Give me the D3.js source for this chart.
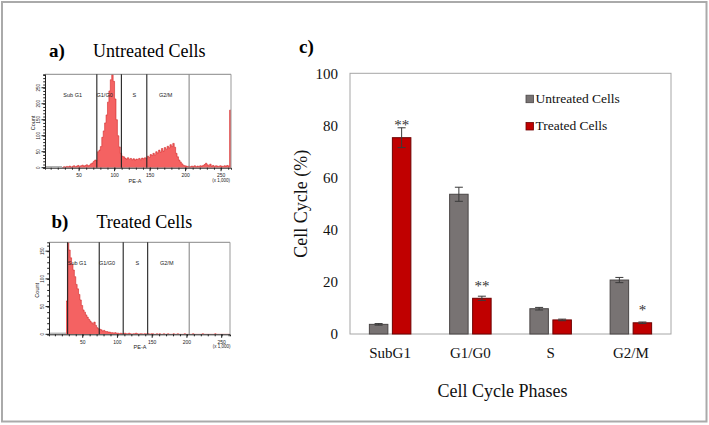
<!DOCTYPE html>
<html><head><meta charset="utf-8">
<script src="https://cdn.jsdelivr.net/npm/d3@7"></script>
<style>body{margin:0;background:#fff}svg{display:block}</style>
</head><body>
<script>
// ---------- bar chart data ----------
const phases = ["SubG1", "G1/G0", "S", "G2/M"];
const seriesNames = ["Untreated Cells", "Treated Cells"];
const untreatedVals = [3.7, 53.6, 9.7, 20.7];
const untreatedErr = [0.3, 2.7, 0.5, 1.0];
const treatedVals = [75.3, 13.7, 5.4, 4.3];
const treatedErr = [3.8, 0.8, 0.3, 0.3];
const sigLabels = ["**", "**", "", "*"];
const sigY = [81.4, 19.7, 0, 10.2];
const yTicks = [0, 20, 40, 60, 80, 100];

// ---------- histogram data (PE-A bins of width 2 starting at 2) ----------
const histBinStart = 2, histBinWidth = 2;
const histUntreated = [
 1,0,1,0,0,1,0,1,0,0,1,1,0,
 3,2,4,3,5,2,4,6,3,5,7,4,6,8,5,7,9,6,8,
 12,15,20,24,22,
 50,55,66,95,115,140,165,205,240,275,292,270,215,150,100,65,45,36,
 34,30,27,31,26,29,25,28,24,27,26,29,25,30,28,31,29,
 36,32,41,38,45,40,50,46,55,49,60,52,63,58,67,62,72,66,76,64,45,34,24,18,12,8,6,5,
 4,5,3,5,4,6,3,5,4,6,5,7,10,14,9,6,11,5,7,4,6,5,4,6,5,4,6,5,7,5,180];
const histTreated = [
 0,0,0,0,0,0,0,0,0,0,0,0,
 60,166,152,138,126,116,104,90,82,72,62,52,44,40,35,31,27,24,21,19,22,16,12,10,9,8,6,7,5,5,4,4,3,3,2,3,2,
 2,1,2,1,1,2,1,1,2,1,0,1,1,2,1,0,1,1,0,1,1,0,1,0,1,1,0,0,1,0,1,0,0,1,0,0,1,0,0,0,1,0,
 0,1,0,0,0,0,1,0,0,0,0,0,1,0,0,0,0,0,0,1,0,0,0,0,0,0,0,0,1,0,0,0,0,0,0,0,0,0,0,0,0,0,0,0,0,0];
const gatesUntreated = [75, 109.6, 145.4, 205];
const gatesTreated = [28.3, 73.8, 108.3, 143.5, 203.3];
const gateNames = ["Sub G1", "G1/G0", "S", "G2/M"];
const gateLabelPosUntreated = [41, 86, 128, 172];
const gateLabelPosTreated = [42, 85, 128.5, 171];
const histXTicks = [50, 100, 150, 200, 250];
const histYTicksUntreated = [0, 50, 100, 150, 200, 250];
const histYTicksTreated = [0, 50, 100, 150];

const W = 709, H = 425;
const svg = d3.select("body").append("svg").attr("width", W).attr("height", H)
  .style("font-family", "'Liberation Serif','Times New Roman',serif");
svg.append("rect").attr("width", W).attr("height", H).attr("fill", "#fff");
svg.append("rect").attr("x", 2).attr("y", 2).attr("width", 704.5).attr("height", 419.5)
  .attr("fill", "none").attr("stroke", "#aaa").attr("stroke-width", 2);

// ---------- histogram panels ----------
function histogram(cfg) {
  const g = svg.append("g");
  const x = d3.scaleLinear().domain(cfg.xDomain).range([cfg.left, cfg.right]);
  const y = d3.scaleLinear().domain(cfg.yDomain).range([cfg.bottom, cfg.top]);
  const clipId = "clip" + cfg.id;
  g.append("clipPath").attr("id", clipId).append("rect")
    .attr("x", cfg.left).attr("y", cfg.top).attr("width", cfg.right - cfg.left).attr("height", cfg.bottom - cfg.top);
  const pts = cfg.counts.map((c, i) => [histBinStart + i * histBinWidth, c]);
  pts.push([histBinStart + cfg.counts.length * histBinWidth, cfg.counts[cfg.counts.length - 1]]);
  const area = d3.area().x(d => x(d[0])).y0(cfg.bottom).y1(d => y(d[1])).curve(d3.curveStepAfter);
  const line = d3.line().x(d => x(d[0])).y(d => y(d[1])).curve(d3.curveStepAfter);
  const redPts = pts.filter(d => d[0] >= cfg.redFrom);
  g.append("line").attr("x1", cfg.left).attr("x2", x(cfg.redFrom)).attr("y1", y(cfg.grayLevel)).attr("y2", y(cfg.grayLevel))
    .attr("stroke", "#999").attr("stroke-width", 1);
  g.append("path").attr("d", area(redPts)).attr("fill", "#f46262").attr("clip-path", `url(#${clipId})`);
  g.append("path").attr("d", line(redPts)).attr("fill", "none").attr("stroke", "#d42a2a").attr("stroke-width", 0.6)
    .attr("clip-path", `url(#${clipId})`);
  // frame
  g.append("line").attr("x1", cfg.left).attr("x2", cfg.right).attr("y1", cfg.top).attr("y2", cfg.top).attr("stroke", "#888");
  g.append("line").attr("x1", cfg.right).attr("x2", cfg.right).attr("y1", cfg.top).attr("y2", cfg.bottom).attr("stroke", "#999");
  cfg.gates.forEach((gv, i) => {
    g.append("line").attr("x1", x(gv)).attr("x2", x(gv)).attr("y1", cfg.top).attr("y2", cfg.bottom)
      .attr("stroke", gv > 200 ? "#8a8a8a" : "#222").attr("stroke-width", 1.1);
  });
  gateNames.forEach((n, i) => {
    g.append("text").attr("x", x(cfg.labelPos[i])).attr("y", cfg.top + (cfg.bottom - cfg.top) * 0.22 + 2)
      .attr("text-anchor", "middle").attr("font-size", 5.5).attr("font-family", "'Liberation Sans',Arial,sans-serif")
      .attr("fill", "#222").text(n);
  });
  // axes
  const xAxis = g.append("g").attr("transform", `translate(0,${cfg.bottom})`)
    .call(d3.axisBottom(x).tickValues(d3.range(10, 261, 10)).tickSize(2).tickFormat(""));
  xAxis.select(".domain").attr("stroke", "#222");
  xAxis.selectAll(".tick line").attr("stroke", "#222");
  histXTicks.forEach(t => {
    g.append("line").attr("x1", x(t)).attr("x2", x(t)).attr("y1", cfg.bottom).attr("y2", cfg.bottom + 3.5).attr("stroke", "#222");
    g.append("text").attr("x", x(t)).attr("y", cfg.bottom + 9.5).attr("text-anchor", "middle")
      .attr("font-size", 5).attr("font-family", "'Liberation Sans',Arial,sans-serif").attr("fill", "#222").text(t);
  });
  g.append("text").attr("x", x(250)).attr("y", cfg.bottom + 14).attr("text-anchor", "middle")
    .attr("font-size", 4.5).attr("font-family", "'Liberation Sans',Arial,sans-serif").attr("fill", "#222").text("(x 1,000)");
  g.append("text").attr("x", cfg.peX).attr("y", cfg.bottom + 15).attr("text-anchor", "middle")
    .attr("font-size", 5.5).attr("font-family", "'Liberation Sans',Arial,sans-serif").attr("fill", "#222").text("PE-A");
  const yAxis = g.append("g").attr("transform", `translate(${cfg.left},0)`)
    .call(d3.axisLeft(y).tickValues(d3.range(0, cfg.yDomain[1], 10)).tickSize(1.8).tickFormat(""));
  yAxis.select(".domain").attr("stroke", "#222");
  yAxis.selectAll(".tick line").attr("stroke", "#222");
  cfg.yTicks.forEach(t => {
    g.append("line").attr("x1", cfg.left - 3.5).attr("x2", cfg.left).attr("y1", y(t)).attr("y2", y(t)).attr("stroke", "#222");
    g.append("text").attr("transform", `translate(${cfg.left - 5},${y(t)}) rotate(-90)`).attr("text-anchor", "middle")
      .attr("font-size", 4.5).attr("font-family", "'Liberation Sans',Arial,sans-serif").attr("fill", "#222").text(t);
  });
  g.append("text").attr("transform", `translate(${cfg.left - 10},${(cfg.top + cfg.bottom) / 2 + 2}) rotate(-90)`)
    .attr("text-anchor", "middle").attr("font-size", 5.5).attr("font-family", "'Liberation Sans',Arial,sans-serif")
    .attr("fill", "#222").text("Count");
  // titles
  svg.append("text").attr("x", cfg.lx).attr("y", cfg.ty).attr("font-size", 19).attr("font-weight", "bold").text(cfg.letter);
  svg.append("text").attr("x", cfg.tx).attr("y", cfg.ty).attr("font-size", 18).text(cfg.title);
}

histogram({id: "a", left: 45, right: 231, top: 74.3, bottom: 167.7, xDomain: [2, 264], yDomain: [0, 292],
  counts: histUntreated, gates: gatesUntreated, labelPos: gateLabelPosUntreated, yTicks: histYTicksUntreated,
  redFrom: 26, grayLevel: 3, peX: 135, letter: "a)", lx: 49, tx: 93, ty: 57.3, title: "Untreated Cells"});
histogram({id: "b", left: 49, right: 230, top: 242.3, bottom: 334.3, xDomain: [1.5, 262], yDomain: [0, 166],
  counts: histTreated, gates: gatesTreated, labelPos: gateLabelPosTreated, yTicks: histYTicksTreated,
  redFrom: 26, grayLevel: 2, peX: 140, letter: "b)", lx: 51.5, tx: 96.5, ty: 228.3, title: "Treated Cells"});

// ---------- bar chart ----------
const pl = 350, pr = 671, pt = 73.3, pb = 334;
const y = d3.scaleLinear().domain([0, 100]).range([pb, pt]);
const x0 = d3.scaleBand().domain(phases).range([pl, pr]).padding(0);
const grpW = 41.5;
const x1 = d3.scaleBand().domain(seriesNames)
  .range([x0.bandwidth() / 2 - grpW / 2, x0.bandwidth() / 2 + grpW / 2]).paddingInner(0.196).paddingOuter(0);
const colors = {"Untreated Cells": "#787373", "Treated Cells": "#c00000"};
const strokes = {"Untreated Cells": "#4a4646", "Treated Cells": "#6e0000"};

svg.append("rect").attr("x", pl).attr("y", pt).attr("width", pr - pl).attr("height", pb - pt)
  .attr("fill", "none").attr("stroke", "#a6a6a6").attr("stroke-width", 1);

const yAx = svg.append("g").attr("transform", `translate(${pl},0)`)
  .call(d3.axisLeft(y).tickValues(yTicks).tickSize(0).tickPadding(12));
yAx.select(".domain").remove();
yAx.selectAll("text").attr("font-size", 15).attr("font-family", "'Liberation Serif',serif").attr("fill", "#111");

const xAx = svg.append("g").attr("transform", `translate(0,${pb})`)
  .call(d3.axisBottom(x0).tickSize(0).tickPadding(13));
xAx.select(".domain").remove();
xAx.selectAll("text").attr("font-size", 15).attr("font-family", "'Liberation Serif',serif").attr("fill", "#111");

const rows = phases.map((p, i) => ({p, i, vals: [
  {s: seriesNames[0], v: untreatedVals[i], e: untreatedErr[i]},
  {s: seriesNames[1], v: treatedVals[i], e: treatedErr[i]}]}));
const grp = svg.selectAll(".grp").data(rows).enter().append("g").attr("transform", d => `translate(${x0(d.p)},0)`);
grp.selectAll("rect").data(d => d.vals).enter().append("rect")
  .attr("x", d => x1(d.s)).attr("width", x1.bandwidth())
  .attr("y", d => y(d.v)).attr("height", d => y(0) - y(d.v))
  .attr("fill", d => colors[d.s]).attr("stroke", d => strokes[d.s]).attr("stroke-width", 1);
grp.selectAll(".err").data(d => d.vals).enter().append("path")
  .attr("d", d => {
    const cx = x1(d.s) + x1.bandwidth() / 2, t = y(d.v + d.e), b = y(d.v - d.e);
    return `M${cx - 4},${t}H${cx + 4}M${cx},${t}V${b}M${cx - 4},${b}H${cx + 4}`;
  }).attr("stroke", "#3a3a3a").attr("stroke-width", 1).attr("fill", "none");
grp.append("text").attr("x", x1(seriesNames[1]) + x1.bandwidth() / 2)
  .attr("y", d => y(sigY[d.i]) + 8).attr("text-anchor", "middle").attr("font-size", 15).attr("fill", "#333")
  .text(d => sigLabels[d.i]);

// legend
seriesNames.forEach((s, i) => {
  const by = [102.7, 130][i];
  svg.append("rect").attr("x", 526).attr("y", by - 7.5).attr("width", 7.5).attr("height", 7.5)
    .attr("fill", colors[s]).attr("stroke", strokes[s]).attr("stroke-width", 0.8);
  svg.append("text").attr("x", 535.5).attr("y", by).attr("font-size", 13.5).attr("fill", "#111").text(s);
});

svg.append("text").attr("x", (pl + pr) / 2 - 8).attr("y", 397).attr("text-anchor", "middle")
  .attr("font-size", 18).attr("fill", "#111").text("Cell Cycle Phases");
svg.append("text").attr("transform", `translate(306.5,${(pt + pb) / 2}) rotate(-90)`).attr("text-anchor", "middle")
  .attr("font-size", 18).attr("fill", "#111").text("Cell Cycle (%)");
svg.append("text").attr("x", 299).attr("y", 52.5).attr("font-size", 19).attr("font-weight", "bold").text("c)");
</script>
</body></html>
